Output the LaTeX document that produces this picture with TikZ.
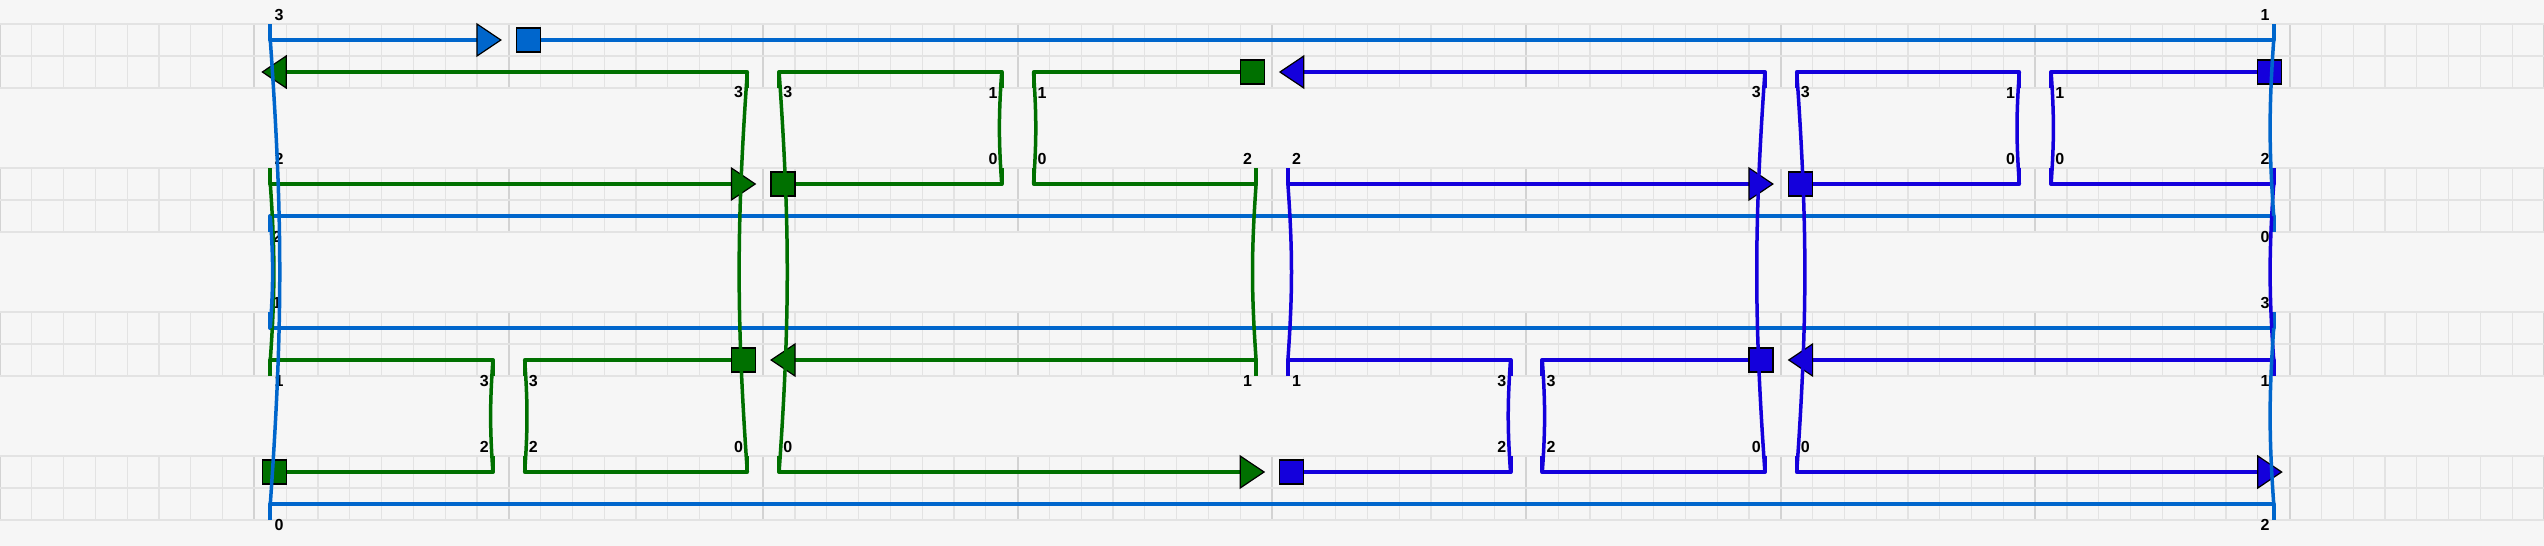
\documentclass[tikz,border=0pt]{standalone}
\usepackage{fontspec}
\setmainfont{Liberation Sans}

\definecolor{sfondo}{HTML}{F6F6F6}
\definecolor{griglia}{HTML}{E3E3E3}
\definecolor{grigliaM}{HTML}{D3D3D3}
\definecolor{blu}{HTML}{0066CC}
\definecolor{verde}{HTML}{007000}
\definecolor{viola}{HTML}{1400DC}

\begin{document}
\begin{tikzpicture}[x=31.8pt, y=-1pt,
    filo/.style={line width=4pt, line join=round},
    arco/.style={line width=3.5pt},
    marca/.style={draw=black, line width=1.2pt},
    quad/.style={marca, minimum size=24pt, inner sep=0pt},
    cifra/.style={inner sep=0pt, font=\fontsize{16}{16}\selectfont\bfseries},
    cifraW/.style={cifra, anchor=west, xshift=4pt},
    cifraE/.style={cifra, anchor=east, xshift=-4pt}]

    % Sfondo
    \fill[sfondo] (0,0) rectangle (80,546);
    \useasboundingbox (0,0) rectangle (80,546);

    % Griglia
    \foreach \t in {24,168,312,456} {
        \foreach \x in {0,...,80} \draw[griglia, line width=1.2pt] (\x,\t) -- (\x,\t+64);
        \foreach \x in {0,8,...,80} \draw[grigliaM, line width=2pt] (\x,\t) -- (\x,\t+64);
        \foreach \d in {0,32,64} \draw[griglia, line width=1.8pt] (0,\t+\d) -- (80,\t+\d);
    }

    % Etichette
    \foreach \x/\y/\t [count=\i] in {8.5/15/3, 24.5/92.5/3, 32.5/92.5/1, 56.5/92.5/3, 64.5/92.5/1,
        8.5/159/2, 32.5/159/0, 40.5/159/2, 64.5/159/0,
        8.5/380.5/1, 16.5/380.5/3, 40.5/380.5/1, 48.5/380.5/3,
        16.5/447/2, 24.5/447/0, 48.5/447/2, 56.5/447/0, 8.5/524.5/0}
        \node[cifraW] (labW\i) at (\x,\y) {\t};
    \node[cifraW, xshift=-2pt] (labW19) at (8.5,236.5) {2};
    \node[cifraW, xshift=-2pt] (labW20) at (8.5,303) {1};
    \foreach \x/\y/\t [count=\i] in {71.5/15/1, 23.5/92.5/3, 31.5/92.5/1, 55.5/92.5/3, 63.5/92.5/1,
        31.5/159/0, 39.5/159/2, 63.5/159/0, 71.5/159/2, 71.5/236.5/0, 71.5/303/3,
        15.5/380.5/3, 39.5/380.5/1, 47.5/380.5/3, 71.5/380.5/1,
        15.5/447/2, 23.5/447/0, 47.5/447/2, 55.5/447/0, 71.5/524.5/2}
        \node[cifraE] (labE\i) at (\x,\y) {\t};

    % Nastri blu
    \draw[filo, blu] (8.5,24) -- (8.5,40) -- (15.5,40);
    \draw[filo, blu] (16.6,40) -- (71.5,40) -- (71.5,24);
    \draw[filo, blu] (8.5,232) -- (8.5,216) -- (71.5,216) -- (71.5,232);
    \draw[filo, blu] (8.5,312) -- (8.5,328) -- (71.5,328) -- (71.5,312);
    \draw[filo, blu] (8.5,520) -- (8.5,504) -- (71.5,504) -- (71.5,520);

    % Riga 2
    \draw[filo, verde] (8.6,72) -- (23.5,72) -- (23.5,88);
    \draw[filo, verde] (24.5,88) -- (24.5,72) -- (31.5,72) -- (31.5,88);
    \draw[filo, verde] (32.5,88) -- (32.5,72) -- (39.4,72);
    \draw[filo, viola] (40.6,72) -- (55.5,72) -- (55.5,88);
    \draw[filo, viola] (56.5,88) -- (56.5,72) -- (63.5,72) -- (63.5,88);
    \draw[filo, viola] (64.5,88) -- (64.5,72) -- (71.4,72);

    % Riga 3
    \draw[filo, verde] (8.5,168) -- (8.5,184) -- (23.4,184);
    \draw[filo, verde] (24.6,184) -- (31.5,184) -- (31.5,168);
    \draw[filo, verde] (32.5,168) -- (32.5,184) -- (39.5,184) -- (39.5,168);
    \draw[filo, viola] (40.5,168) -- (40.5,184) -- (55.4,184);
    \draw[filo, viola] (56.6,184) -- (63.5,184) -- (63.5,168);
    \draw[filo, viola] (64.5,168) -- (64.5,184) -- (71.5,184) -- (71.5,168);

    % Riga 6
    \draw[filo, verde] (8.5,376) -- (8.5,360) -- (15.5,360) -- (15.5,376);
    \draw[filo, verde] (16.5,376) -- (16.5,360) -- (23.4,360);
    \draw[filo, verde] (24.6,360) -- (39.5,360) -- (39.5,376);
    \draw[filo, viola] (40.5,376) -- (40.5,360) -- (47.5,360) -- (47.5,376);
    \draw[filo, viola] (48.5,376) -- (48.5,360) -- (55.4,360);
    \draw[filo, viola] (56.6,360) -- (71.5,360) -- (71.5,376);

    % Riga 7
    \draw[filo, verde] (8.6,472) -- (15.5,472) -- (15.5,456);
    \draw[filo, verde] (16.5,456) -- (16.5,472) -- (23.5,472) -- (23.5,456);
    \draw[filo, verde] (24.5,456) -- (24.5,472) -- (39.4,472);
    \draw[filo, viola] (40.6,472) -- (47.5,472) -- (47.5,456);
    \draw[filo, viola] (48.5,456) -- (48.5,472) -- (55.5,472) -- (55.5,456);
    \draw[filo, viola] (56.5,456) -- (56.5,472) -- (71.4,472);

    % Frecce e quadrati
    \foreach \b/\y/\c in {16/40/blu, 24/184/verde, 56/184/viola, 40/472/verde, 72/472/viola}
        \filldraw[marca, fill=\c] (\b-1,\y-16) -- (\b-0.25,\y) -- (\b-1,\y+16) -- cycle;
    \foreach \b/\y/\c in {8/72/verde, 40/72/viola, 24/360/verde, 56/360/viola}
        \filldraw[marca, fill=\c] (\b+1,\y-16) -- (\b+0.25,\y) -- (\b+1,\y+16) -- cycle;
    \foreach \b/\y/\c [count=\i] in {16/40/blu, 24/184/verde, 56/184/viola, 8/472/verde, 40/472/viola}
        \node[quad, fill=\c] (qD\i) at (\b+0.625,\y) {};
    \foreach \b/\y/\c [count=\i] in {40/72/verde, 72/72/viola, 24/360/verde, 56/360/viola}
        \node[quad, fill=\c] (qS\i) at (\b-0.625,\y) {};

    % Archi verdi e viola
    \draw[arco, verde] (8.5,184) to[bend left=4] (8.5,360);
    \draw[arco, verde] (15.5,360) to[bend right=4] (15.5,472);
    \draw[arco, verde] (16.5,360) to[bend left=4] (16.5,472);
    \draw[arco, verde] (23.5,72) to[bend right=4] (23.5,472);
    \draw[arco, verde] (24.5,72) to[bend left=4] (24.5,472);
    \draw[arco, verde] (31.5,72) to[bend right=4] (31.5,184);
    \draw[arco, verde] (32.5,72) to[bend left=4] (32.5,184);
    \draw[arco, verde] (39.5,184) to[bend right=4] (39.5,360);
    \draw[arco, viola] (40.5,184) to[bend left=4] (40.5,360);
    \draw[arco, viola] (47.5,360) to[bend right=4] (47.5,472);
    \draw[arco, viola] (48.5,360) to[bend left=4] (48.5,472);
    \draw[arco, viola] (55.5,72) to[bend right=4] (55.5,472);
    \draw[arco, viola] (56.5,72) to[bend left=4] (56.5,472);
    \draw[arco, viola] (63.5,72) to[bend right=4] (63.5,184);
    \draw[arco, viola] (64.5,72) to[bend left=4] (64.5,184);
    \draw[arco, viola] (71.5,184) to[bend right=4] (71.5,360);

    % Archi blu
    \draw[arco, blu] (8.5,40) to[bend left=4] (8.5,504);
    \draw[arco, blu] (8.5,216) to[bend left=4] (8.5,328);
    \draw[arco, blu] (71.5,40) to[bend right=4] (71.5,216);
    \draw[arco, blu] (71.5,328) to[bend right=4] (71.5,504);
\end{tikzpicture}
\end{document}
